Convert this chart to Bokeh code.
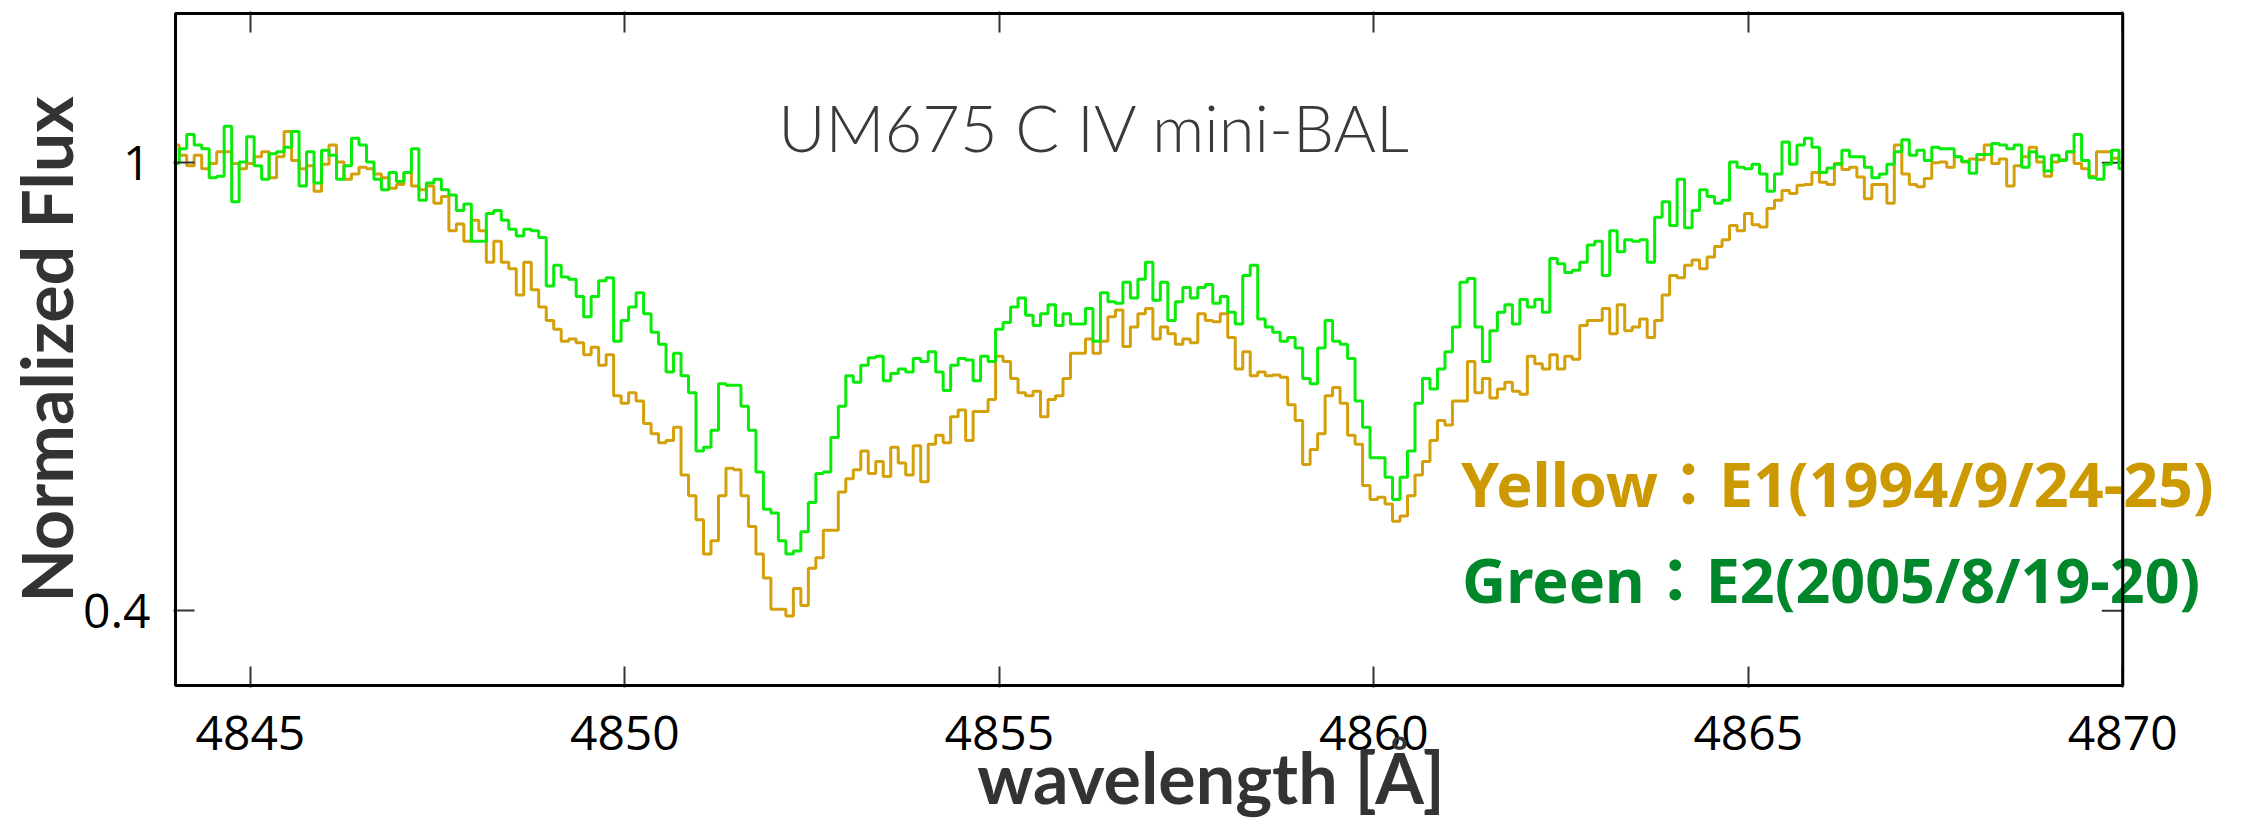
import numpy as np
from bokeh.plotting import figure
from bokeh.models import FixedTicker, LinearAxis, Label, BoxAnnotation, Range1d
from bokeh.embed import file_html
from bokeh.resources import INLINE

# ---------------- data ----------------
wl_start = 4844.0
wl_step = 0.1

# Yellow : E1 (1994/9/24-25)
flux_e1 = [
    1.024, 1.010, 0.996, 1.010, 0.992, 0.999, 1.015, 1.015, 0.999, 0.992,
    0.999, 1.008, 1.015, 0.980, 1.008, 1.042, 1.003, 0.992, 0.996, 0.962,
    0.998, 1.024, 1.001, 0.978, 0.985, 0.994, 0.992, 0.985, 0.980, 0.966,
    0.971, 0.987, 0.969, 0.964, 0.969, 0.946, 0.955, 0.909, 0.918, 0.895,
    0.923, 0.909, 0.867, 0.895, 0.867, 0.858, 0.823, 0.867, 0.830, 0.807,
    0.789, 0.777, 0.761, 0.764, 0.759, 0.743, 0.753, 0.729, 0.743, 0.688,
    0.678, 0.692, 0.681, 0.651, 0.637, 0.625, 0.628, 0.646, 0.582, 0.554,
    0.522, 0.476, 0.494, 0.554, 0.591, 0.589, 0.554, 0.513, 0.476, 0.444,
    0.402, 0.402, 0.393, 0.430, 0.407, 0.457, 0.471, 0.508, 0.508, 0.559,
    0.577, 0.589, 0.614, 0.584, 0.600, 0.580, 0.619, 0.598, 0.582, 0.621,
    0.573, 0.623, 0.635, 0.625, 0.660, 0.669, 0.628, 0.667, 0.667, 0.683,
    0.741, 0.734, 0.711, 0.692, 0.688, 0.694, 0.660, 0.683, 0.688, 0.711,
    0.745, 0.745, 0.764, 0.745, 0.761, 0.794, 0.803, 0.754, 0.780, 0.798,
    0.805, 0.764, 0.780, 0.771, 0.757, 0.764, 0.759, 0.798, 0.789, 0.787,
    0.798, 0.766, 0.724, 0.747, 0.715, 0.720, 0.715, 0.716, 0.713, 0.676,
    0.655, 0.596, 0.616, 0.637, 0.688, 0.699, 0.678, 0.635, 0.623, 0.568,
    0.549, 0.552, 0.543, 0.520, 0.527, 0.554, 0.582, 0.600, 0.628, 0.655,
    0.649, 0.681, 0.681, 0.734, 0.692, 0.711, 0.685, 0.697, 0.706, 0.694,
    0.690, 0.741, 0.731, 0.724, 0.743, 0.724, 0.741, 0.737, 0.782, 0.789,
    0.789, 0.805, 0.771, 0.810, 0.775, 0.780, 0.791, 0.766, 0.789, 0.823,
    0.849, 0.846, 0.863, 0.870, 0.858, 0.874, 0.888, 0.897, 0.916, 0.909,
    0.932, 0.917, 0.914, 0.939, 0.950, 0.963, 0.959, 0.970, 0.971, 0.987,
    0.974, 0.971, 0.999, 0.991, 0.994, 0.981, 0.952, 0.971, 0.971, 0.946,
    1.024, 0.985, 0.971, 0.968, 0.979, 1.000, 1.001, 0.994, 1.008, 1.001,
    1.005, 1.004, 1.024, 0.999, 1.005, 0.969, 0.996, 1.008, 1.021, 1.001,
    0.982, 1.001, 1.004, 1.015, 0.999, 0.992, 0.982, 1.015, 1.015, 1.006,
    1.001,
]

# Green : E2 (2005/8/19-20)
flux_e2 = [
    0.999, 1.019, 1.038, 1.024, 1.019, 0.980, 0.982, 1.049, 0.948, 1.001,
    1.035, 0.996, 0.978, 1.012, 1.015, 1.021, 1.042, 0.969, 1.015, 0.973,
    1.017, 1.010, 0.978, 0.996, 1.033, 1.024, 1.001, 0.978, 0.964, 0.987,
    0.975, 0.987, 1.019, 0.950, 0.973, 0.978, 0.964, 0.957, 0.936, 0.945,
    0.895, 0.895, 0.932, 0.936, 0.923, 0.911, 0.902, 0.911, 0.909, 0.900,
    0.835, 0.863, 0.847, 0.844, 0.821, 0.794, 0.821, 0.842, 0.846, 0.761,
    0.789, 0.807, 0.826, 0.798, 0.773, 0.757, 0.720, 0.745, 0.715, 0.692,
    0.614, 0.619, 0.642, 0.704, 0.702, 0.702, 0.674, 0.642, 0.586, 0.536,
    0.531, 0.494, 0.476, 0.480, 0.506, 0.545, 0.584, 0.586, 0.632, 0.674,
    0.715, 0.706, 0.729, 0.739, 0.741, 0.708, 0.718, 0.724, 0.720, 0.738,
    0.734, 0.747, 0.720, 0.695, 0.729, 0.738, 0.736, 0.708, 0.741, 0.734,
    0.777, 0.786, 0.807, 0.819, 0.796, 0.782, 0.798, 0.810, 0.782, 0.798,
    0.784, 0.784, 0.805, 0.761, 0.826, 0.814, 0.812, 0.840, 0.819, 0.844,
    0.867, 0.816, 0.840, 0.789, 0.814, 0.833, 0.819, 0.833, 0.837, 0.812,
    0.821, 0.800, 0.784, 0.849, 0.863, 0.791, 0.780, 0.773, 0.761, 0.766,
    0.752, 0.711, 0.704, 0.752, 0.789, 0.761, 0.757, 0.738, 0.681, 0.646,
    0.605, 0.605, 0.579, 0.549, 0.579, 0.614, 0.678, 0.711, 0.697, 0.724,
    0.747, 0.780, 0.840, 0.845, 0.780, 0.734, 0.775, 0.800, 0.810, 0.784,
    0.817, 0.807, 0.817, 0.800, 0.872, 0.865, 0.853, 0.856, 0.867, 0.890,
    0.895, 0.849, 0.909, 0.881, 0.897, 0.895, 0.897, 0.867, 0.927, 0.948,
    0.916, 0.978, 0.913, 0.936, 0.964, 0.955, 0.946, 0.950, 1.001, 0.994,
    0.992, 0.998, 0.985, 0.962, 0.985, 1.028, 0.998, 1.024, 1.033, 1.021,
    0.987, 0.993, 0.998, 1.017, 1.008, 1.008, 0.994, 0.980, 0.985, 0.998,
    1.015, 1.031, 1.010, 1.017, 1.003, 1.021, 1.019, 1.019, 1.008, 1.002,
    0.986, 1.011, 1.011, 1.026, 1.024, 1.019, 1.024, 0.994, 1.015, 1.008,
    0.989, 1.010, 1.003, 1.015, 1.038, 1.003, 0.980, 0.978, 0.998, 1.017,
    0.992,
]

wavelength = np.round(wl_start + wl_step * np.arange(len(flux_e1)), 1)

x_ticks = [4845, 4850, 4855, 4860, 4865, 4870]
y_ticks = [0.4, 1]
y_tick_labels = {0.4: "0.4", 1: "1"}

title_text = "UM675 C IV mini-BAL"
x_title = "wavelength [Å]"
y_title = "Normalized Flux"
legend_e1 = "Yellow：E1(1994/9/24-25)"
legend_e2 = "Green：E2(2005/8/19-20)"

# ---------------- layout ----------------
W, H = 2248, 821
BOX_L, BOX_R, BOX_T, BOX_B = 171, 2122, 13, 686   # the drawn plot box (px)
X0, X1 = 4844.0, 4870.0                            # data limits of the box
Y0, Y1 = 0.3, 1.2
FL, FR, FT, FB = 169, W, 11, 688                   # bokeh frame (px)
SX = (BOX_R - BOX_L) / (X1 - X0)
SY = (BOX_B - BOX_T) / (Y1 - Y0)

p = figure(width=W, height=H, output_backend="svg", toolbar_location=None,
           x_range=Range1d(X0 - (BOX_L - FL) / SX, X0 + (FR - BOX_L) / SX),
           y_range=Range1d(Y0 - (FB - BOX_B) / SY, Y1 + (BOX_T - FT) / SY),
           min_border_left=FL, min_border_right=W - FR,
           min_border_top=FT, min_border_bottom=H - FB,
           x_axis_location=None, y_axis_location=None)
p.background_fill_color = "white"
p.border_fill_color = "white"
p.outline_line_color = None
p.grid.visible = False


def px_to_x(px):
    return X0 + (px - BOX_L) / SX


def py_to_y(py):
    return Y1 - (py - BOX_T) / SY


def style_axis(ax):
    ax.axis_line_color = None
    ax.major_tick_in = 21
    ax.major_tick_out = 0
    ax.minor_tick_line_color = None
    ax.major_tick_line_color = "#333333"
    ax.major_tick_line_width = 2
    ax.major_label_text_font = "Open Sans"
    ax.major_label_text_font_size = "48px"
    ax.major_label_text_color = "black"
    ax.axis_label_text_font = "Lato"
    ax.axis_label_text_font_style = "bold"
    ax.axis_label_text_font_size = "70px"
    ax.axis_label_text_color = "#333333"


xb = LinearAxis(ticker=FixedTicker(ticks=x_ticks), axis_label=x_title)
style_axis(xb)
xb.major_label_standoff = 28
xb.axis_label_standoff = -18
p.add_layout(xb, "below")

xt = LinearAxis(ticker=FixedTicker(ticks=x_ticks))
style_axis(xt)
xt.major_label_text_font_size = "0px"
xt.major_label_text_color = None
xt.major_label_standoff = 0
p.add_layout(xt, "above")

yl = LinearAxis(ticker=FixedTicker(ticks=y_ticks), major_label_overrides=y_tick_labels,
                axis_label=y_title)
style_axis(yl)
yl.major_label_standoff = 23
yl.axis_label_standoff = -8
p.add_layout(yl, "left")

# plot box (its right side sits inside the frame)
p.add_layout(BoxAnnotation(left=X0, right=X1, bottom=Y0, top=Y1, fill_color=None,
                           fill_alpha=0, line_color="black", line_alpha=1.0,
                           line_width=3, level="overlay"))
# inward ticks on the right side of the box
p.segment(x0=[X1] * len(y_ticks), x1=[X1 - 21 / SX] * len(y_ticks), y0=y_ticks, y1=y_ticks,
          line_color="#333333", line_width=2)

# spectra
p.step(wavelength, flux_e1, mode="center", line_color="#D4A00A", line_width=3)
p.step(wavelength, flux_e2, mode="center", line_color="#0BEB0B", line_width=3)

# texts
LIFT = 23
p.add_layout(Label(x=px_to_x(775), y=py_to_y(150 - LIFT), text=title_text,
                   text_font="Lato Light, Lato", text_font_size="65px",
                   text_color="#3a3a3a", text_align="left", text_baseline="alphabetic"))
p.add_layout(Label(x=px_to_x(1459), y=py_to_y(507 - LIFT), text=legend_e1,
                   text_font="Noto Sans, Noto Sans CJK JP", text_font_size="61px",
                   text_font_style="bold", text_color="#CC9900",
                   text_align="left", text_baseline="alphabetic"))
p.add_layout(Label(x=px_to_x(1460), y=py_to_y(603 - LIFT), text=legend_e2,
                   text_font="Noto Sans, Noto Sans CJK JP", text_font_size="61px",
                   text_font_style="bold", text_color="#00862B",
                   text_align="left", text_baseline="alphabetic"))

open("out.html", "w").write(file_html(p, INLINE))
